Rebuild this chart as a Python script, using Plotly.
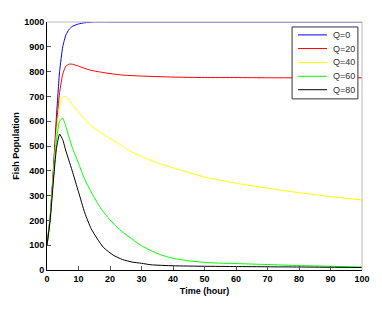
import plotly.graph_objects as go

t_q0 = [0, 1, 2, 3, 4, 5, 6, 7, 8, 10, 12, 15, 20, 30, 40, 50, 60, 70, 80, 90, 100]
v_q0 = [100, 215, 400, 620, 800, 900, 948, 970, 982, 992, 997, 1000, 1000, 1000, 1000, 1000, 1000, 1000, 1000, 1000, 1000]

t_q20 = [0, 1, 2, 3, 4, 5, 6, 7, 8, 10, 12, 14, 17, 20, 24, 30, 40, 50, 60, 70, 80, 90, 100]
v_q20 = [100, 212, 390, 580, 715, 790, 822, 830, 830, 822, 813, 805, 798, 792, 786, 782, 778, 776, 776, 775, 775, 775, 775]

t_q40 = [0, 1, 2, 3, 4, 5, 6, 7, 8, 10, 12, 14, 17, 19, 22, 26, 30, 35, 40, 50, 60, 70, 80, 90, 100]
v_q40 = [100, 210, 380, 550, 660, 698, 700, 688, 668, 638, 608, 582, 555, 538, 516, 482, 458, 432, 412, 375, 350, 330, 312, 296, 282]

t_q60 = [0, 1, 2, 3, 4, 5, 6, 7, 8, 10, 12, 14, 17, 20, 23, 26, 30, 33, 36, 40, 45, 52, 60, 70, 80, 90, 100]
v_q60 = [100, 205, 365, 520, 600, 612, 578, 535, 495, 430, 365, 315, 250, 202, 163, 134, 98, 78, 62, 47, 37, 29, 26, 22, 18, 15, 12]

t_q80 = [0, 1, 2, 3, 4, 5, 6, 7, 8, 10, 12, 14, 16, 18, 21, 24, 27, 30, 33, 40, 50, 60, 70, 80, 90, 100]
v_q80 = [100, 200, 355, 490, 548, 525, 480, 440, 400, 315, 230, 167, 125, 90, 60, 42, 32, 27, 21, 17, 15, 14, 13, 12, 11, 10]

names = ["Q=0", "Q=20", "Q=40", "Q=60", "Q=80"]
times = [t_q0, t_q20, t_q40, t_q60, t_q80]
values = [v_q0, v_q20, v_q40, v_q60, v_q80]
colors = ["#0000ff", "#ff0000", "#ffff00", "#00ff00", "#000000"]

x_ticks = [0, 10, 20, 30, 40, 50, 60, 70, 80, 90, 100]
y_ticks = [0, 100, 200, 300, 400, 500, 600, 700, 800, 900, 1000]

fig = go.Figure()
for name, t, v, c in zip(names, times, values, colors):
    fig.add_trace(go.Scatter(x=t, y=v, mode="lines", name=name, showlegend=False,
                             line=dict(color=c, width=1, shape="spline", smoothing=0.5)))

# custom legend box (paper coordinates)
shapes = [
    dict(type="line", xref="paper", yref="paper", x0=0, x1=1, y0=1, y1=1,
         line=dict(color="#bbbbbb", width=1)),
    dict(type="line", xref="paper", yref="paper", x0=1, x1=1, y0=0, y1=1,
         line=dict(color="#bbbbbb", width=1)),
    dict(type="rect", xref="paper", yref="paper", x0=0.778, x1=0.987, y0=0.690, y1=0.980,
         line=dict(color="#333333", width=1), fillcolor="white", layer="above"),
]
annotations = []
row_y = [0.948, 0.893, 0.837, 0.781, 0.727]
for name, c, ry in zip(names, colors, row_y):
    shapes.append(dict(type="line", xref="paper", yref="paper", x0=0.797, x1=0.889,
                       y0=ry, y1=ry, line=dict(color=c, width=1), layer="above"))
    annotations.append(dict(xref="paper", yref="paper", x=0.900, y=ry, text=name,
                            showarrow=False, xanchor="left", yanchor="middle",
                            font=dict(size=9, color="#333333")))

tickfont = dict(family="Liberation Sans, Arial", size=9, color="black", weight="bold")
fig.update_layout(
    width=382, height=309,
    margin=dict(l=47, r=20, t=22, b=39),
    paper_bgcolor="white", plot_bgcolor="white",
    font=dict(family="Liberation Sans, Arial", size=9, color="black"),
    showlegend=False,
    xaxis=dict(range=[0, 100], tickvals=x_ticks, ticks="inside", ticklen=4,
               tickcolor="#555555", showgrid=False, zeroline=False,
               showline=True, linecolor="black", linewidth=1,
               tickfont=tickfont,
               title=dict(text="<b>Time (hour)</b>", font=dict(size=9), standoff=4)),
    yaxis=dict(range=[0, 1000], tickvals=y_ticks, ticks="inside", ticklen=4,
               tickcolor="#555555", showgrid=False, zeroline=False,
               showline=True, linecolor="black", linewidth=1,
               tickfont=tickfont,
               title=dict(text="<b>Fish Population</b>", font=dict(size=9), standoff=3)),
    shapes=shapes,
    annotations=annotations,
)

fig.write_html("out.html", config={"displayModeBar": False},
               post_script="document.body.style.margin='0';")
